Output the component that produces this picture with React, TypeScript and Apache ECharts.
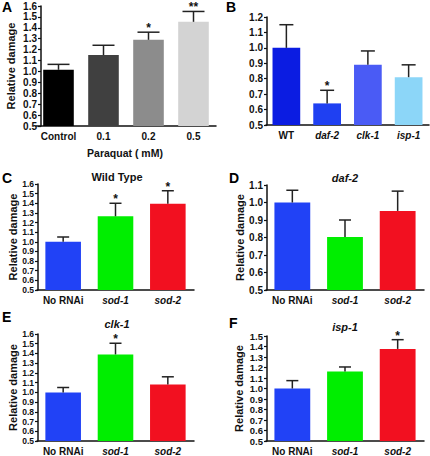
import React, { useEffect, useRef } from "react";
import * as echarts from "echarts";

// Panel A
const catsA = ["Control", "0.1", "0.2", "0.5"];
const valsA = [1.015, 1.15, 1.29, 1.455];
const errA = [1.065, 1.24, 1.36, 1.55];
const starsA = ["", "", "*", "**"];
const colorsA = ["#000000", "#404040", "#8c8c8c", "#d3d3d3"];

// Panel B
const catsB = ["WT", "daf-2", "clk-1", "isp-1"];
const valsB = [1.0, 0.64, 0.89, 0.81];
const errB = [1.15, 0.725, 0.98, 0.89];
const starsB = ["", "*", "", ""];
const colorsB = ["#0b1ce2", "#1f40f2", "#4a5bf5", "#8cd6f8"];

// Panels C-F
const catsRNAi = ["No RNAi", "sod-1", "sod-2"];
const colorsRNAi = ["#2142f6", "#00ee00", "#f21020"];
const valsC = [1.0, 1.265, 1.395];
const errC = [1.05, 1.4, 1.53];
const starsC = ["", "*", "*"];
const valsD = [1.0, 0.803, 0.952];
const errD = [1.07, 0.9, 1.065];
const starsD = ["", "", ""];
const valsE = [0.998, 1.39, 1.08];
const errE = [1.05, 1.505, 1.16];
const starsE = ["", "*", ""];
const valsF = [1.0, 1.162, 1.377];
const errF = [1.075, 1.205, 1.465];
const starsF = ["", "", "*"];

const FONT = "Liberation Sans";
const italicCats = new Set(["daf-2", "clk-1", "isp-1", "sod-1", "sod-2"]);

type Panel = {
  cats: string[];
  vals: number[];
  errs: number[];
  stars: string[];
  colors: string[];
  grid: { left: number; top: number; width: number; height: number };
  yMin: number;
  yMax: number;
  yName: string;
  nameGap: number;
  yOffset: number;
  cap: number;
  yFont: number;
};

const panels: Panel[] = [
  { cats: catsA, vals: valsA, errs: errA, stars: starsA, colors: colorsA,
    grid: { left: 36, top: 6, width: 180, height: 120 }, yMin: 0.5, yMax: 1.6,
    yName: "Relative damage", nameGap: 25, yOffset: -5, cap: 22, yFont: 10 },
  { cats: catsB, vals: valsB, errs: errB, stars: starsB, colors: colorsB,
    grid: { left: 266, top: 17, width: 163, height: 108 }, yMin: 0.5, yMax: 1.2,
    yName: "", nameGap: 25, yOffset: -1, cap: 14, yFont: 10 },
  { cats: catsRNAi, vals: valsC, errs: errC, stars: starsC, colors: colorsRNAi,
    grid: { left: 37, top: 184, width: 157, height: 106 }, yMin: 0.5, yMax: 1.6,
    yName: "Relative damage", nameGap: 20, yOffset: -1, cap: 12, yFont: 8.5 },
  { cats: catsRNAi, vals: valsD, errs: errD, stars: starsD, colors: colorsRNAi,
    grid: { left: 266, top: 185, width: 158, height: 105 }, yMin: 0.5, yMax: 1.1,
    yName: "Relative damage", nameGap: 22, yOffset: -1, cap: 12, yFont: 10 },
  { cats: catsRNAi, vals: valsE, errs: errE, stars: starsE, colors: colorsRNAi,
    grid: { left: 37, top: 334, width: 157, height: 107 }, yMin: 0.5, yMax: 1.6,
    yName: "Relative damage", nameGap: 20, yOffset: -1, cap: 12, yFont: 8.5 },
  { cats: catsRNAi, vals: valsF, errs: errF, stars: starsF, colors: colorsRNAi,
    grid: { left: 266, top: 336, width: 158, height: 105 }, yMin: 0.5, yMax: 1.5,
    yName: "Relative damage", nameGap: 23, yOffset: -1, cap: 12, yFont: 9.5 },
];

const panelLetters = [
  { t: "A", x: 2, y: 0 },
  { t: "B", x: 226, y: 0 },
  { t: "C", x: 2, y: 171 },
  { t: "D", x: 229, y: 171 },
  { t: "E", x: 2, y: 310 },
  { t: "F", x: 229, y: 316 },
];

const titles = [
  { t: "Wild Type", x: 117, y: 171, italic: false },
  { t: "daf-2", x: 345, y: 172, italic: true },
  { t: "clk-1", x: 117, y: 318, italic: true },
  { t: "isp-1", x: 345, y: 321, italic: true },
];

export default function App() {
  const ref = useRef<HTMLDivElement>(null);
  useEffect(() => {
    if (!ref.current) return;
    const chart = echarts.init(ref.current, undefined, { renderer: "svg" });

    const grids = panels.map((p) => ({ ...p.grid, containLabel: false }));
    const xAxes = panels.map((p, i) => ({
      type: "category",
      gridIndex: i,
      data: p.cats,
      axisLine: { lineStyle: { color: "#111", width: 1.5 } },
      axisTick: { alignWithLabel: true, length: 3, lineStyle: { color: "#111", width: 1.2 } },
      axisLabel: {
        interval: 0,
        margin: 5,
        fontFamily: FONT,
        fontWeight: "bold",
        fontSize: 10,
        color: "#111",
        formatter: (v: string) => (italicCats.has(v) ? `{i|${v}}` : v),
        rich: { i: { fontStyle: "italic", fontWeight: "bold", fontFamily: FONT, fontSize: 10, color: "#111" } },
      },
    }));
    const yAxes = panels.map((p, i) => ({
      type: "value",
      gridIndex: i,
      min: p.yMin,
      max: p.yMax,
      interval: 0.1,
      offset: p.yOffset,
      splitLine: { show: false },
      axisLine: { show: true, lineStyle: { color: "#111", width: 1.5 } },
      axisTick: { show: true, length: 3, lineStyle: { color: "#111", width: 1.2 } },
      axisLabel: {
        margin: 4,
        hideOverlap: false,
        fontFamily: FONT,
        fontWeight: "bold",
        fontSize: p.yFont,
        color: "#111",
        formatter: (v: number) => v.toFixed(1),
      },
      name: p.yName,
      nameLocation: "middle",
      nameGap: p.nameGap,
      nameTextStyle: { fontFamily: FONT, fontWeight: "bold", fontSize: 11, color: "#111" },
    }));

    const series: any[] = [];
    panels.forEach((p, i) => {
      series.push({
        type: "bar",
        xAxisIndex: i,
        yAxisIndex: i,
        barWidth: "68%",
        data: p.vals.map((v, k) => ({ value: v, itemStyle: { color: p.colors[k] } })),
      });
      series.push({
        type: "custom",
        xAxisIndex: i,
        yAxisIndex: i,
        z: 5,
        data: p.vals.map((v, k) => [k, v, p.errs[k]]),
        renderItem: (params: any, api: any) => {
          const k = api.value(0);
          const p0 = api.coord([k, api.value(1)]);
          const p1 = api.coord([k, api.value(2)]);
          const half = p.cap / 2;
          const star = p.stars[params.dataIndex];
          const children: any[] = [
            { type: "line", shape: { x1: p0[0], y1: p0[1], x2: p1[0], y2: p1[1] }, style: { stroke: "#222", lineWidth: 1.5 } },
            { type: "line", shape: { x1: p1[0] - half, y1: p1[1], x2: p1[0] + half, y2: p1[1] }, style: { stroke: "#222", lineWidth: 1.5 } },
          ];
          if (star) {
            children.push({
              type: "text",
              x: p1[0],
              y: p1[1] - 4,
              style: { text: star, fontFamily: FONT, fontWeight: "bold", fontSize: 12, lineHeight: 8, fill: "#111", align: "center", verticalAlign: "middle" },
            });
          }
          return { type: "group", children };
        },
      });
    });

    const graphics: any[] = [];
    panelLetters.forEach((l) => {
      graphics.push({ type: "text", x: l.x, y: l.y, style: { text: l.t, fontFamily: FONT, fontWeight: "bold", fontSize: 14, fill: "#000" } });
    });
    titles.forEach((t) => {
      graphics.push({
        type: "text",
        x: t.x,
        y: t.y,
        style: { text: t.t, fontFamily: FONT, fontWeight: "bold", fontStyle: t.italic ? "italic" : "normal", fontSize: 11, fill: "#111", align: "center" },
      });
    });
    graphics.push({
      type: "text",
      x: 125,
      y: 147,
      style: { text: "Paraquat ( mM)", fontFamily: FONT, fontWeight: "bold", fontSize: 10.5, fill: "#111", align: "center" },
    });

    chart.setOption({
      animation: false,
      backgroundColor: "#ffffff",
      grid: grids,
      xAxis: xAxes,
      yAxis: yAxes,
      series,
      graphic: graphics,
    });
    return () => chart.dispose();
  }, []);
  return <div ref={ref} style={{ width: 430, height: 456, position: "absolute", left: 0, top: 0 }} />;
}
